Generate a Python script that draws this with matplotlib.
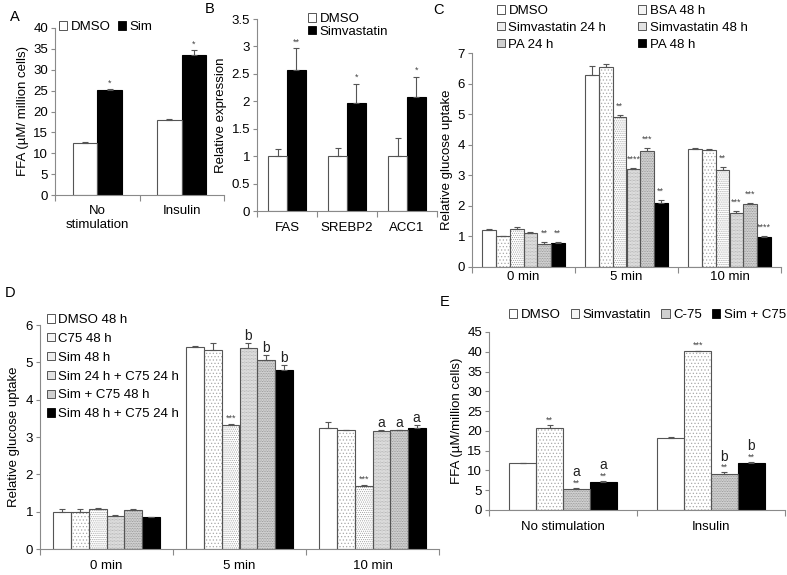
import matplotlib
matplotlib.use("Agg")
import matplotlib.pyplot as plt
from matplotlib.patches import Patch
import numpy as np

plt.rcParams['font.family'] = ['Liberation Sans', 'DejaVu Sans']
plt.rcParams['hatch.linewidth'] = 0.5

# ---------------- data ----------------
A_cats = ['No\nstimulation', 'Insulin']
A_names = ['DMSO', 'Sim']
A_vals = [[12.5, 18.0], [25.2, 33.5]]
A_errs = [[0.3, 0.3], [0.3, 1.3]]
A_sig = [['', ''], ['*', '*']]

B_cats = ['FAS', 'SREBP2', 'ACC1']
B_names = ['DMSO', 'Simvastatin']
B_vals = [[1.0, 1.0, 1.0], [2.57, 1.96, 2.07]]
B_errs = [[0.13, 0.14, 0.33], [0.40, 0.36, 0.38]]
B_sig = [['', '', ''], ['**', '*', '*']]

C_cats = ['0 min', '5 min', '10 min']
C_names = ['DMSO', 'BSA 48 h', 'Simvastatin 24 h', 'Simvastatin 48 h', 'PA 24 h', 'PA 48 h']
C_vals = [[1.20, 6.28, 3.87],
          [1.00, 6.55, 3.84],
          [1.24, 4.90, 3.18],
          [1.12, 3.20, 1.78],
          [0.75, 3.78, 2.07],
          [0.80, 2.10, 0.98]]
C_errs = [[0.04, 0.28, 0.03],
          [0.03, 0.10, 0.02],
          [0.07, 0.08, 0.09],
          [0.03, 0.03, 0.04],
          [0.08, 0.12, 0.02],
          [0.03, 0.08, 0.02]]
C_sig = [['', '', ''], ['', '', ''], ['', '**', '**'],
         ['', '****', '***'], ['**', '***', '***'], ['**', '**', '****']]

D_cats = ['0 min', '5 min', '10 min']
D_names = ['DMSO 48 h', 'C75 48 h', 'Sim 48 h', 'Sim 24 h + C75 24 h',
           'Sim + C75 48 h', 'Sim 48 h + C75 24 h']
D_vals = [[1.00, 5.42, 3.23],
          [0.99, 5.33, 3.18],
          [1.07, 3.33, 1.70],
          [0.89, 5.39, 3.15],
          [1.05, 5.05, 3.18],
          [0.86, 4.80, 3.24]]
D_errs = [[0.07, 0.01, 0.18],
          [0.07, 0.18, 0.02],
          [0.03, 0.02, 0.02],
          [0.03, 0.14, 0.04],
          [0.02, 0.14, 0.02],
          [0.01, 0.12, 0.08]]
D_stars = [['', '', ''], ['', '', ''], ['', '***', '***'],
           ['', '', ''], ['', '', ''], ['', '', '']]
D_letters = [['', '', ''], ['', '', ''], ['', '', ''],
             ['', 'b', 'a'], ['', 'b', 'a'], ['', 'b', 'a']]

E_cats = ['No stimulation', 'Insulin']
E_names = ['DMSO', 'Simvastatin', 'C-75', 'Sim + C75']
E_vals = [[11.9, 18.25], [20.85, 40.1], [5.3, 9.1], [7.0, 11.9]]
E_errs = [[0.1, 0.15], [0.6, 0.2], [0.2, 0.4], [0.3, 0.2]]
E_stars = [['', ''], ['**', '***'], ['**', '**'], ['**', '**']]
E_letters = [['', ''], ['', ''], ['a', 'b'], ['a', 'b']]

# ---------------- styles ----------------
W = dict(face='white', hatch=None, hc=None, lg='white')
DOT1 = dict(face='white', hatch='.....', hc='#a8a8a8', lg='#f4f4f4')
DOT2 = dict(face='white', hatch='........', hc='#a0a0a0', lg='#eeeeee')
DOT3 = dict(face='#f2f2f2', hatch='............', hc='#9a9a9a', lg='#e2e2e2')
GRAY = dict(face='#d8d8d8', hatch='..........', hc='#8a8a8a', lg='#cfcfcf')
BLK = dict(face='black', hatch=None, hc=None, lg='black')

EDGE = '#555555'
AX = '#8a8a8a'
FS = 9.5

FW, FH = 787, 575
fig = plt.figure(figsize=(FW / 100, FH / 100), dpi=100)


def add_ax(x0, x1, y0, y1):
    return fig.add_axes([x0 / FW, 1 - y1 / FH, (x1 - x0) / FW, (y1 - y0) / FH])


def handle(st):
    if st['face'] == 'black':
        return Patch(facecolor='black', edgecolor='black', linewidth=0.6)
    return Patch(facecolor=st['lg'], edgecolor=EDGE, linewidth=0.7)


def draw(ax, cats, vals, errs, styles, width, ymax, ystep, lab_pad, sig=None,
         letters=None, sig_pad=0.0, let_pad=0.0, sig_fs=6.5, let_fs=10):
    n = len(vals)
    xc = np.arange(len(cats))
    for i in range(n):
        x = xc + (i - (n - 1) / 2) * width
        st = styles[i]
        if st['face'] == 'black':
            ax.bar(x, vals[i], width, color='black', edgecolor='black', linewidth=0.8, zorder=2)
        else:
            ax.bar(x, vals[i], width, color=st['face'], edgecolor=st['hc'] or 'none',
                   hatch=st['hatch'], linewidth=0, zorder=2)
            ax.bar(x, vals[i], width, fill=False, edgecolor=EDGE, linewidth=0.8, zorder=3)
        ax.errorbar(x, vals[i], yerr=[np.zeros(len(cats)), errs[i]], fmt='none',
                    ecolor='#555555', elinewidth=0.8, capsize=2.2, capthick=0.8, zorder=4)
        for j in range(len(cats)):
            top = vals[i][j] + errs[i][j]
            yy = top
            if sig is not None and sig[i][j]:
                ax.text(x[j], top + sig_pad, sig[i][j], ha='center', va='bottom',
                        fontsize=sig_fs, color='#444444')
                yy = top + sig_pad + ymax * 0.045
            if letters is not None and letters[i][j]:
                ax.text(x[j], yy + let_pad, letters[i][j], ha='center', va='bottom',
                        fontsize=let_fs, color='#222222')
    ax.set_xlim(-0.5, len(cats) - 0.5)
    ax.set_ylim(0, ymax)
    ax.set_yticks(np.arange(0, ymax + ystep / 2, ystep))
    ax.set_yticklabels([('%g' % v) for v in np.arange(0, ymax + ystep / 2, ystep)])
    ax.set_xticks(xc)
    ax.set_xticklabels(cats)
    ax.set_xticks(np.arange(-0.5, len(cats)), minor=True)
    ax.tick_params(axis='x', which='major', length=0, pad=lab_pad, labelsize=FS)
    ax.tick_params(axis='x', which='minor', length=4, color=AX, width=0.8)
    ax.tick_params(axis='y', length=3, color=AX, width=0.8, labelsize=FS, pad=2)
    for s in ['top', 'right']:
        ax.spines[s].set_visible(False)
    for s in ['left', 'bottom']:
        ax.spines[s].set_color(AX)
        ax.spines[s].set_linewidth(0.8)


def leg(handles, labels, x, y, ncol=1, labelspacing=0.5, columnspacing=1.0):
    fig.legend(handles, labels, loc='upper left', bbox_to_anchor=(x / FW, 1 - y / FH),
               ncol=ncol, frameon=False, fontsize=FS, handlelength=0.62, handleheight=0.62,
               handletextpad=0.25, borderpad=0, borderaxespad=0,
               labelspacing=labelspacing, columnspacing=columnspacing)


# ---------------- A ----------------
axA = add_ax(55, 224, 28, 195)
draw(axA, A_cats, A_vals, A_errs, [W, BLK], 0.29, 40, 5, 7, sig=A_sig, sig_pad=0.3)
axA.set_ylabel('FFA (µM/ million cells)', fontsize=FS, labelpad=3)
leg([handle(W), handle(BLK)], A_names, 59, 21, ncol=2, columnspacing=0.6)
fig.text(10 / FW, 1 - 17 / FH, 'A', fontsize=10.5, va='center')

# ---------------- B ----------------
axB = add_ax(257, 437, 19, 211)
draw(axB, B_cats, B_vals, B_errs, [W, BLK], 0.31, 3.5, 0.5, 8, sig=B_sig, sig_pad=0.03)
axB.set_ylabel('Relative expression', fontsize=FS, labelpad=3)
leg([handle(W), handle(BLK)], B_names, 308, 13, labelspacing=0.05)
fig.text(205 / FW, 1 - 9 / FH, 'B', fontsize=10.5, va='center')

# ---------------- C ----------------
axC = add_ax(472, 781, 53, 267)
C_styles = [W, DOT1, DOT2, DOT3, GRAY, BLK]
draw(axC, C_cats, C_vals, C_errs, C_styles, 0.133, 7, 1, 3, sig=C_sig, sig_pad=0.14)
axC.set_ylabel('Relative glucose uptake', fontsize=FS, labelpad=3)
order = [0, 2, 4, 1, 3, 5]
leg([handle(C_styles[k]) for k in order], [C_names[k] for k in order], 497, 5,
    ncol=2, labelspacing=0.36, columnspacing=2.4)
fig.text(433 / FW, 1 - 10 / FH, 'C', fontsize=10.5, va='center')

# ---------------- D ----------------
axD = add_ax(40, 439, 325, 549)
D_styles = [W, DOT1, DOT2, DOT3, GRAY, BLK]
draw(axD, D_cats, D_vals, D_errs, D_styles, 0.133, 6, 1, 8, sig=D_stars,
     letters=D_letters, sig_pad=0.03, let_pad=0.0)
axD.set_ylabel('Relative glucose uptake', fontsize=FS, labelpad=4)
leg([handle(s) for s in D_styles], D_names, 47, 314, labelspacing=0.52)
fig.text(5 / FW, 1 - 293 / FH, 'D', fontsize=10.5, va='center')

# ---------------- E ----------------
axE = add_ax(489, 785, 332, 510)
E_styles = [W, DOT1, GRAY, BLK]
draw(axE, E_cats, E_vals, E_errs, E_styles, 0.181, 45, 5, 8, sig=E_stars,
     letters=E_letters, sig_pad=0.2, let_pad=0.0)
axE.set_ylabel('FFA (µM/million cells)', fontsize=FS, labelpad=3)
leg([handle(s) for s in E_styles], E_names, 509, 309, ncol=4, columnspacing=0.8)
fig.text(440 / FW, 1 - 302 / FH, 'E', fontsize=10.5, va='center')

fig.savefig('out.png', dpi=100)
